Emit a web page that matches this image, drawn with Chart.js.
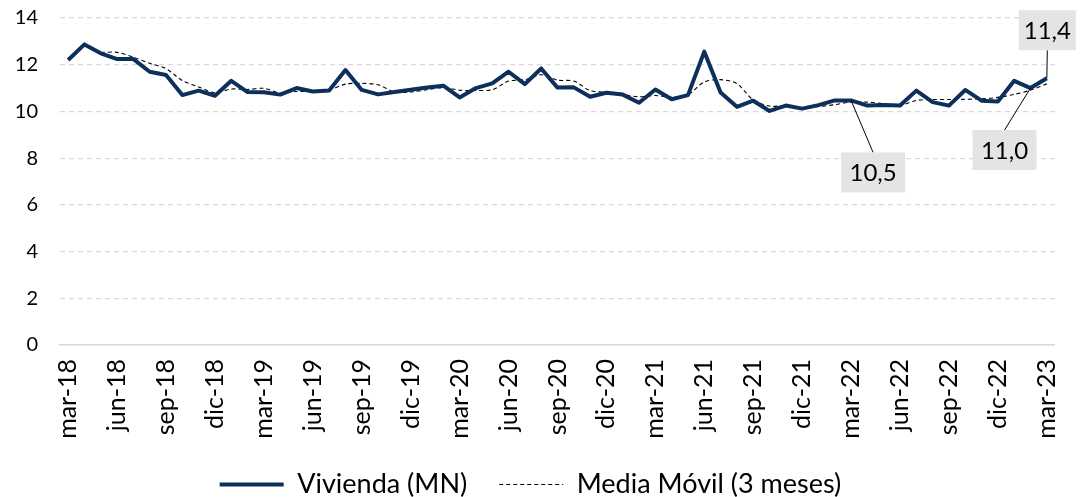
<!DOCTYPE html>
<html>
<head>
<meta charset="utf-8">
<script src="https://cdn.jsdelivr.net/npm/chart.js@4.4.0/dist/chart.umd.min.js"></script>
<style>
html,body{margin:0;padding:0;background:#fff;}
#wrap{width:1083px;height:497px;}
</style>
</head>
<body>
<div id="wrap"><canvas id="c" width="1083" height="497"></canvas></div>
<script>
const categories = [
 'mar-18','abr-18','may-18','jun-18','jul-18','ago-18','sep-18','oct-18','nov-18','dic-18',
 'ene-19','feb-19','mar-19','abr-19','may-19','jun-19','jul-19','ago-19','sep-19','oct-19','nov-19','dic-19',
 'ene-20','feb-20','mar-20','abr-20','may-20','jun-20','jul-20','ago-20','sep-20','oct-20','nov-20','dic-20',
 'ene-21','feb-21','mar-21','abr-21','may-21','jun-21','jul-21','ago-21','sep-21','oct-21','nov-21','dic-21',
 'ene-22','feb-22','mar-22','abr-22','may-22','jun-22','jul-22','ago-22','sep-22','oct-22','nov-22','dic-22',
 'ene-23','feb-23','mar-23'
];
const vivienda = [
 12.20,12.87,12.49,12.24,12.24,11.70,11.56,10.70,10.89,10.67,
 11.31,10.83,10.82,10.72,11.00,10.85,10.90,11.77,10.92,10.73,10.83,10.93,
 11.02,11.10,10.60,11.00,11.20,11.70,11.17,11.84,11.02,11.03,10.63,10.80,
 10.72,10.37,10.94,10.52,10.70,12.56,10.81,10.20,10.46,10.02,10.25,10.12,
 10.27,10.47,10.47,10.25,10.27,10.25,10.89,10.40,10.25,10.92,10.46,10.43,
 11.31,11.00,11.42
];
const mediaMovil = [
 null,null,12.52,12.53,12.32,12.06,11.83,11.32,11.05,10.80,
 10.96,10.94,10.99,10.79,10.85,10.86,10.92,11.17,11.20,11.14,10.83,10.83,
 10.93,11.02,10.91,10.90,10.93,11.30,11.36,11.57,11.34,11.30,10.89,10.82,
 10.72,10.63,10.68,10.61,10.72,11.26,11.36,11.19,10.49,10.23,10.24,10.13,
 10.21,10.29,10.40,10.40,10.33,10.26,10.47,10.51,10.51,10.52,10.54,10.60,
 10.73,10.91,11.18
];
const yTicks = [0,2,4,6,8,10,12,14];
const labelledPoints = [48, 59, 60];

const FONT = "Lato, 'Noto Sans', sans-serif";

const calloutPlugin = {
  id: 'callouts',
  afterDatasetsDraw(chart) {
    const ctx = chart.ctx;
    const meta = chart.getDatasetMeta(0);
    const style = {
      48: {dx: 22, dy: 72, w: 64, h: 40, anchor: 'top'},
      59: {dx: -26, dy: 62, w: 64, h: 40, anchor: 'top'},
      60: {dx: 0.5, dy: -48, w: 57, h: 40, anchor: 'bottom'}
    };
    labelledPoints.forEach(i => {
      const el = meta.data[i];
      const s = style[i];
      const cx = el.x + s.dx, cy = el.y + s.dy;
      const ly = s.anchor === 'top' ? cy - s.h / 2 : cy + s.h / 2;
      ctx.save();
      ctx.strokeStyle = '#000';
      ctx.lineWidth = 1;
      ctx.beginPath();
      ctx.moveTo(cx, ly);
      ctx.lineTo(el.x, el.y);
      ctx.stroke();
      ctx.fillStyle = '#e4e4e4';
      ctx.fillRect(cx - s.w / 2, cy - s.h / 2, s.w, s.h);
      ctx.fillStyle = '#000';
      ctx.font = '24px ' + FONT;
      ctx.textAlign = 'center';
      ctx.textBaseline = 'middle';
      ctx.fillText(vivienda[i].toFixed(1).replace('.', ','), cx, cy + 1);
      ctx.restore();
    });
  }
};

new Chart(document.getElementById('c'), {
  type: 'line',
  data: {
    labels: categories,
    datasets: [
      {
        label: 'Vivienda (MN)',
        data: vivienda,
        borderColor: '#0d2f5c',
        backgroundColor: '#0d2f5c',
        borderWidth: 4,
        pointRadius: 0,
        tension: 0,
        borderJoinStyle: 'round',
        order: 1
      },
      {
        label: 'Media Móvil (3 meses)',
        data: mediaMovil,
        borderColor: '#000',
        backgroundColor: '#000',
        borderWidth: 1.1,
        borderDash: [4, 3],
        pointRadius: 0,
        tension: 0.3,
        order: 2
      }
    ]
  },
  options: {
    responsive: false,
    animation: false,
    devicePixelRatio: 1,
    layout: {padding: {top: 18, right: 22, left: 0, bottom: 0}},
    plugins: {
      tooltip: {enabled: false},
      legend: {
        position: 'bottom',
        maxHeight: 58,
        labels: {
          usePointStyle: true,
          pointStyle: 'line',
          pointStyleWidth: 64,
          boxHeight: 4,
          padding: 32,
          color: '#000',
          font: {family: FONT, size: 27},
          generateLabels: chart => {
            const items = Chart.defaults.plugins.legend.labels.generateLabels(chart);
            items.forEach(it => {
              const ds = chart.data.datasets[it.datasetIndex];
              it.lineDash = ds.borderDash || [];
              it.lineWidth = ds.borderWidth;
              it.strokeStyle = ds.borderColor;
            });
            return items;
          }
        }
      }
    },
    scales: {
      x: {
        offset: true,
        grid: {display: false},
        border: {display: true, color: '#d9d9d9', width: 1.5},
        ticks: {
          autoSkip: false,
          maxRotation: 90,
          minRotation: 90,
          padding: 6,
          color: '#000',
          font: {family: FONT, size: 25},
          callback: (v, i) => (i % 3 === 0 ? categories[i] : '')
        },
        afterFit: s => { s.height = 94; s.paddingTop = 0; s.paddingBottom = 0; }
      },
      y: {
        min: 0,
        max: 14,
        afterBuildTicks: s => { s.ticks = yTicks.map(v => ({value: v})); },
        grid: {color: '#d9d9d9', lineWidth: 1.2, drawTicks: false},
        border: {display: false, dash: [5, 4]},
        ticks: {
          padding: 22,
          color: '#000',
          font: {family: FONT, size: 20}
        },
        afterFit: s => { s.width = 60; s.paddingTop = 0; s.paddingBottom = 0; }
      }
    }
  },
  plugins: [calloutPlugin]
});
</script>
</body>
</html>
